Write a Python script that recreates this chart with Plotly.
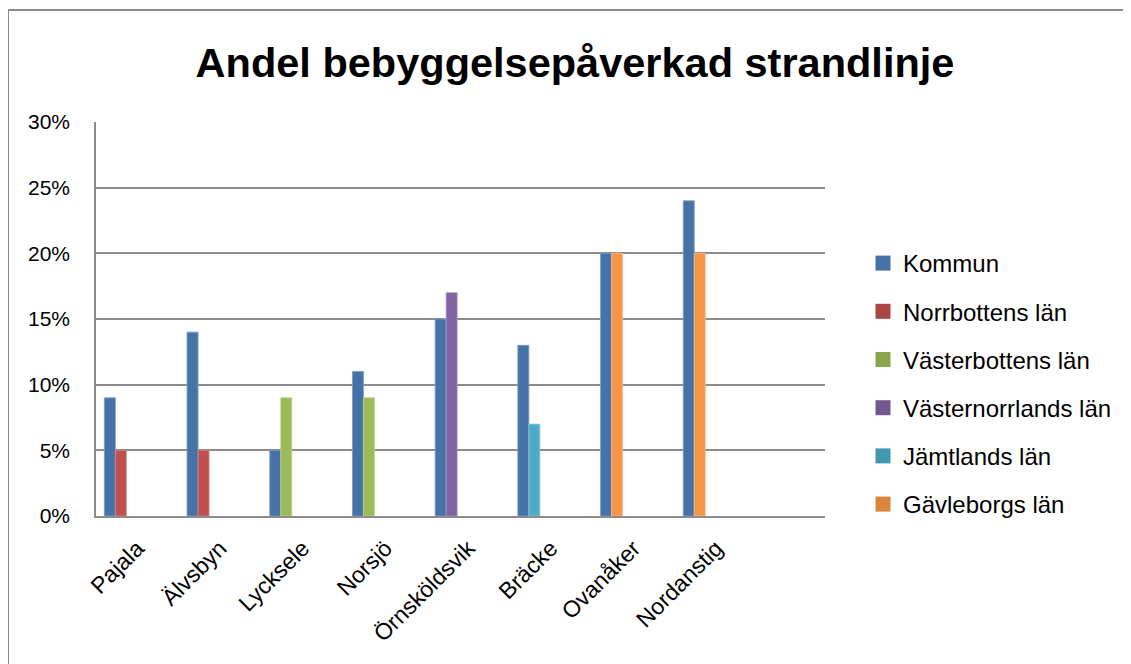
import plotly.graph_objects as go

categories = ["Pajala", "Älvsbyn", "Lycksele", "Norsjö", "Örnsköldsvik", "Bräcke", "Ovanåker", "Nordanstig"]
kommun = [0.09, 0.14, 0.05, 0.11, 0.15, 0.13, 0.20, 0.24]
norrbottens = [0.05, 0.05, None, None, None, None, None, None]
vasterbottens = [None, None, 0.09, 0.09, None, None, None, None]
vasternorrlands = [None, None, None, None, 0.17, None, None, None]
jamtlands = [None, None, None, None, None, 0.07, None, None]
gavleborgs = [None, None, None, None, None, None, 0.20, 0.20]

series_names = ["Kommun", "Norrbottens län", "Västerbottens län", "Västernorrlands län", "Jämtlands län", "Gävleborgs län"]
series_values = [kommun, norrbottens, vasterbottens, vasternorrlands, jamtlands, gavleborgs]
bar_colors = ["#4572A7", "#C0504D", "#9BBB59", "#8064A2", "#4BACC6", "#F79646"]
legend_colors = ["#4572A7", "#AA4643", "#89A54E", "#71588F", "#4198AF", "#DB843D"]
edge_colors = ["#7d9cc4", "#d08a88", "#bdd196", "#a896c0", "#8dcbdc", "#f9bb8c"]

FONT = "Liberation Sans"
slot = 0.133

# page body has an 8px margin; figure coordinates are page coordinates minus 8
W, H = 1123, 656
L, T, R, B = 88, 114, 306, 148
PW = W - L - R
PH = H - T - B

fig = go.Figure()
for i, (name, vals) in enumerate(zip(series_names, series_values)):
    off = -3 * slot if i == 0 else -2 * slot
    fig.add_trace(go.Bar(
        x=categories, y=vals, name=name, showlegend=False,
        offset=off, width=slot,
        marker=dict(color=bar_colors[i], line=dict(color=edge_colors[i], width=0.8)),
    ))
for i, name in enumerate(series_names):
    fig.add_trace(go.Scatter(
        x=[None], y=[None], mode="markers", name=name, legendgroup=name,
        marker=dict(symbol="square", size=15, color=legend_colors[i]),
    ))

def px_x(x):
    return (x - L) / PW

def px_y(y):
    return (H - B - y) / PH

fig.update_layout(
    width=W, height=H,
    margin=dict(l=L, r=R, t=T, b=B),
    paper_bgcolor="white", plot_bgcolor="white",
    barmode="overlay",
    font=dict(family=FONT, color="black"),
    title=dict(text="<b>Andel bebyggelsepåverkad strandlinje</b>",
               font=dict(family=FONT, size=41.5, color="black"),
               x=567/W, xref="container", xanchor="center",
               y=1 - 54/H, yref="container", yanchor="middle"),
    legend=dict(x=px_x(855), xanchor="left", y=px_y(233), yanchor="top",
                font=dict(family=FONT, size=24, color="black"),
                tracegroupgap=14, bgcolor="rgba(0,0,0,0)"),
    xaxis=dict(type="category", range=[-0.5, 8.315], showgrid=False,
               showline=True, linecolor="#8c8c8c", linewidth=1.5,
               ticks="", tickangle=-45, tickfont=dict(family=FONT, size=23),
               ticklabelstandoff=8, fixedrange=True),
    yaxis=dict(range=[0, 0.3], dtick=0.05, tickformat=".0%",
               showgrid=True, gridcolor="#8c8c8c", gridwidth=1.5,
               showline=True, linecolor="#8c8c8c", linewidth=1.5,
               zeroline=False, ticks="", tickfont=dict(family=FONT, size=21),
               ticklabelstandoff=20),
    shapes=[
        dict(type="line", xref="paper", yref="paper", x0=px_x(0), x1=px_x(W + 10),
             y0=px_y(2), y1=px_y(2), line=dict(color="#8c8c8c", width=2)),
        dict(type="line", xref="paper", yref="paper", x0=px_x(0), x1=px_x(0),
             y0=px_y(2), y1=px_y(H + 10), line=dict(color="#8c8c8c", width=2)),
    ],
)

fig.write_html("out.html")
